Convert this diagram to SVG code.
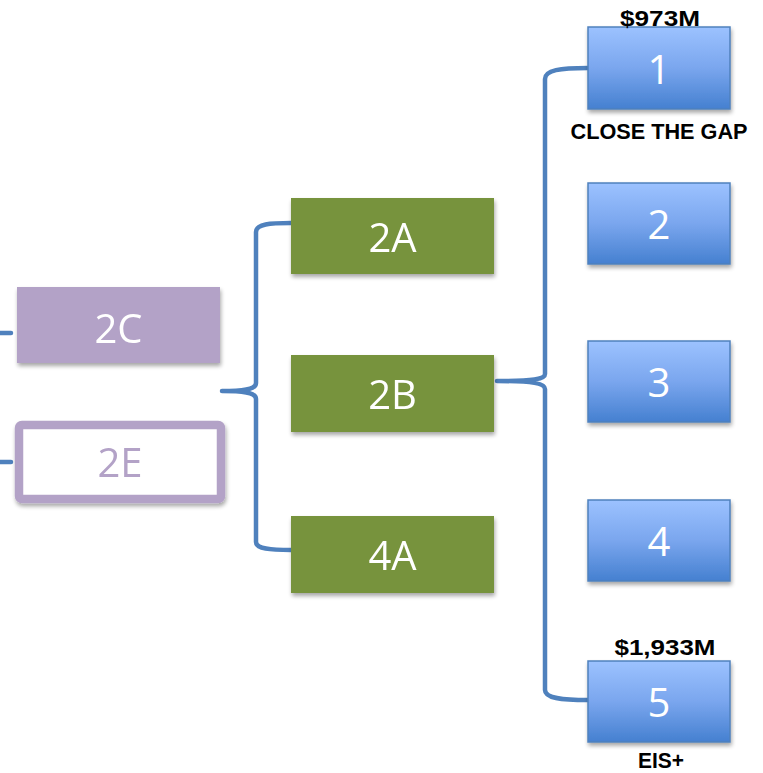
<svg xmlns="http://www.w3.org/2000/svg" width="763" height="773" viewBox="0 0 763 773">
<style>
.conn{fill:none;stroke:#4F81BD;stroke-width:4.5;stroke-linecap:round;stroke-linejoin:round}
.big{font-family:"Open Sans","Liberation Sans",sans-serif;font-size:40px;fill:#fff;text-anchor:middle}
.lbl{font-family:"Liberation Sans",Arial,sans-serif;font-size:22px;font-weight:bold;fill:#000;text-anchor:middle}
.green{fill:#77933C}
.blue{fill:url(#bg);stroke:#4F81BD;stroke-width:1.5}
</style>
<defs>
<linearGradient id="bg" x1="0" y1="0" x2="0" y2="1">
<stop offset="0" stop-color="#9CC2FF"/>
<stop offset="0.5" stop-color="#7AA6EE"/>
<stop offset="1" stop-color="#4580D0"/>
</linearGradient>
<filter id="sh" x="-10%" y="-10%" width="125%" height="135%">
<feGaussianBlur in="SourceAlpha" stdDeviation="2"/>
<feOffset dx="1" dy="3" result="b"/>
<feComponentTransfer><feFuncA type="linear" slope="0.35"/></feComponentTransfer>
<feMerge><feMergeNode/><feMergeNode in="SourceGraphic"/></feMerge>
</filter>
</defs>
<g id="connectors">
<line class="conn" x1="-2" y1="333" x2="11" y2="333"/>
<line class="conn" x1="-2" y1="462" x2="11" y2="462"/>
<path class="conn" d="M291,223 C270,223 256,224 256,232 L256,383 C256,388 250,391 222,391 C250,391 256,394 256,399 L256,542 C256,549 270,550 291,550"/>
<path class="conn" d="M588,68 C560,68 545,70 545,79 L545,374 C545,379 535,381 497,381 C535,381 545,384 545,389 L545,690 C545,698 560,700 588,700"/>
</g>
<g id="n2C" filter="url(#sh)">
<rect x="17" y="287" width="203" height="76" fill="#B3A2C7"/>
<text class="big" x="118.5" y="343">2C</text>
</g>
<g id="n2E" filter="url(#sh)">
<rect x="19" y="425" width="202" height="74" rx="3" fill="#fff" stroke="#B3A2C7" stroke-width="8.5"/>
<text class="big" x="120" y="477" style="fill:#B3A2C7">2E</text>
</g>
<g id="n2A" filter="url(#sh)">
<rect class="green" x="291" y="198" width="203" height="76"/>
<text class="big" x="392.5" y="252">2A</text>
</g>
<g id="n2B" filter="url(#sh)">
<rect class="green" x="291" y="355" width="203" height="77"/>
<text class="big" x="392.5" y="409">2B</text>
</g>
<g id="n4A" filter="url(#sh)">
<rect class="green" x="291" y="516" width="203" height="77"/>
<text class="big" x="392.5" y="570">4A</text>
</g>
<g id="n1">
<rect class="blue" x="588" y="27" width="142" height="82" filter="url(#sh)"/>
<text class="big" x="659" y="84">1</text>
<text class="lbl" x="660" y="26" textLength="80" lengthAdjust="spacingAndGlyphs">$973M</text>
<text class="lbl" x="659" y="139" textLength="177" lengthAdjust="spacingAndGlyphs">CLOSE THE GAP</text>
</g>
<g id="n2">
<rect class="blue" x="588" y="183" width="142" height="81" filter="url(#sh)"/>
<text class="big" x="659" y="239">2</text>
</g>
<g id="n3">
<rect class="blue" x="588" y="341" width="142" height="81" filter="url(#sh)"/>
<text class="big" x="659" y="397">3</text>
</g>
<g id="n4">
<rect class="blue" x="588" y="500" width="142" height="81" filter="url(#sh)"/>
<text class="big" x="659" y="556">4</text>
</g>
<g id="n5">
<rect class="blue" x="588" y="661" width="142" height="81" filter="url(#sh)"/>
<text class="big" x="659" y="717">5</text>
<text class="lbl" x="665" y="655" textLength="101" lengthAdjust="spacingAndGlyphs">$1,933M</text>
<text class="lbl" x="661" y="768" textLength="46" lengthAdjust="spacingAndGlyphs">EIS+</text>
</g>
</svg>
